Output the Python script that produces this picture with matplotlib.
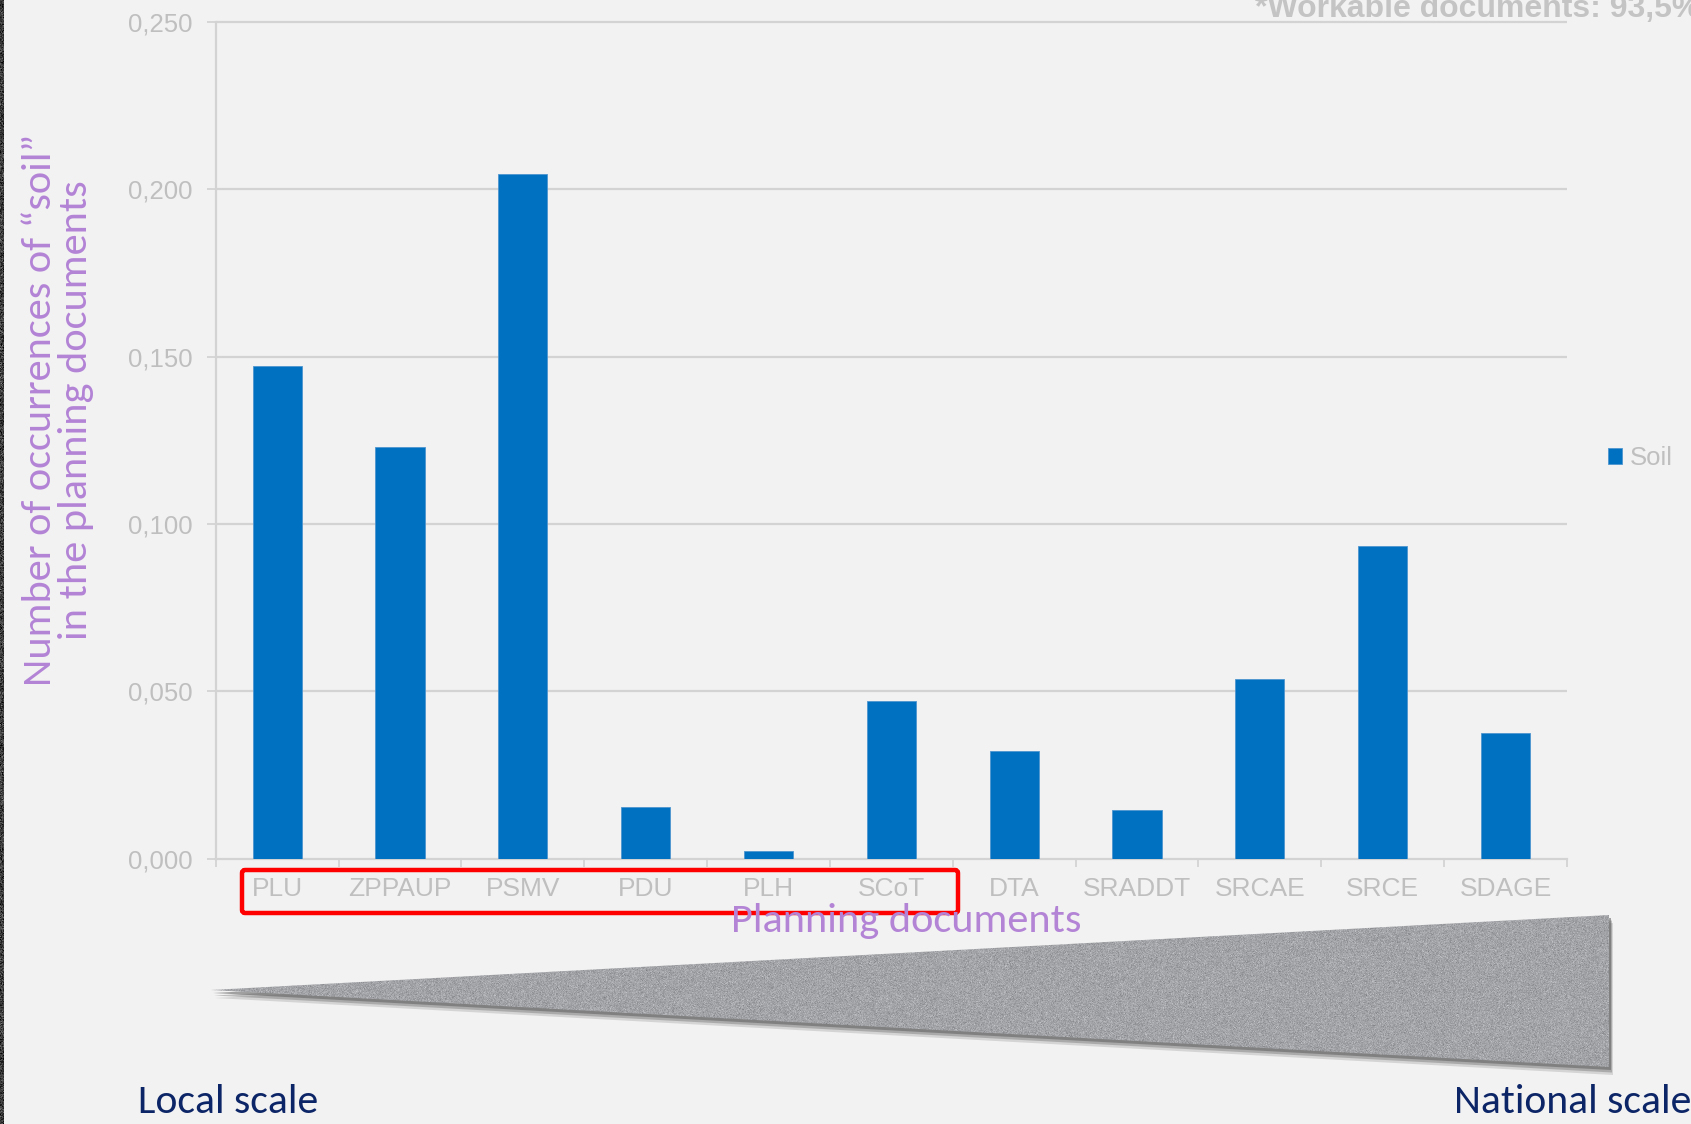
import numpy as np
import matplotlib.pyplot as plt
from matplotlib import font_manager
from matplotlib.patches import Polygon, FancyBboxPatch

# occurrences of "soil" per planning document
docs = ['PLU', 'ZPPAUP', 'PSMV', 'PDU', 'PLH', 'SCoT', 'DTA', 'SRADDT', 'SRCAE', 'SRCE', 'SDAGE']
soil = [0.1473, 0.1231, 0.2046, 0.0155, 0.0022, 0.0471, 0.0322, 0.0147, 0.0536, 0.0933, 0.0375]
yticks = [0.0, 0.05, 0.10, 0.15, 0.20, 0.25]
ytick_labels = ['0,000', '0,050', '0,100', '0,150', '0,200', '0,250']

W, H = 1691, 1124
bg = '#f2f2f2'
blue = '#0070c0'
grey_txt = '#bfbfbf'
line_col = '#d3d3d3'
purple = '#b383d6'
navy = '#0c2566'

installed = {f.name for f in font_manager.fontManager.ttflist}

def pick(*names):
    for n in names:
        if n in installed:
            return n
    return 'DejaVu Sans'

arial = pick('Liberation Sans', 'Arimo', 'DejaVu Sans')
calibri = pick('Carlito', 'Lato', 'Open Sans', 'Noto Sans')

fig = plt.figure(figsize=(W / 100, H / 100), dpi=100, facecolor=bg)

# main bar chart, placed in pixel terms
x0, x1, y0, y1 = 215.7, 1567, 858.7, 22
ax = fig.add_axes([x0 / W, 1 - y0 / H, (x1 - x0) / W, (y0 - y1) / H])
ax.set_facecolor(bg)
x = np.arange(len(docs))
ax.bar(x, soil, width=0.40, color=blue, edgecolor='#4f95d0', linewidth=0.6,
       zorder=3, label='Soil')
ax.set_xlim(-0.5, len(docs) - 0.5)
ax.set_ylim(0, 0.25)
ax.hlines(yticks[1:], -0.5, len(docs) - 0.5, color=line_col, linewidth=1.6,
          zorder=1, clip_on=False)

for side in ['top', 'right']:
    ax.spines[side].set_visible(False)
for side in ['left', 'bottom']:
    ax.spines[side].set_color(line_col)
    ax.spines[side].set_linewidth(1.6)

ax.set_yticks(yticks)
ax.set_yticklabels(ytick_labels, fontfamily=arial)
ax.tick_params(axis='y', length=6.5, width=1.3, color=line_col, pad=10,
               labelsize=18.5, labelcolor=grey_txt)
ax.set_xticks(x)
ax.set_xticklabels(docs, fontfamily=arial)
ax.set_xticks(np.arange(-0.5, len(docs)), minor=True)
ax.tick_params(axis='x', which='major', length=0, pad=13,
               labelsize=19, labelcolor=grey_txt)
ax.tick_params(axis='x', which='minor', length=6, width=1.3, color=line_col)

leg = ax.legend(loc='center left', bbox_to_anchor=(1608 / W, 1 - 458 / H),
                bbox_transform=fig.transFigure, frameon=False,
                handlelength=0.55, handleheight=0.55, handletextpad=0.3,
                borderpad=0, borderaxespad=0,
                prop={'family': arial, 'size': 18.5})
for t in leg.get_texts():
    t.set_color(grey_txt)

# overlay in pixel coordinates for the extra decorations
ov = fig.add_axes([0, 0, 1, 1])
ov.set_xlim(0, W)
ov.set_ylim(H, 0)
ov.axis('off')
ov.patch.set_alpha(0)

rng = np.random.default_rng(7)

# dark grainy strip on the left edge
strip = 60 + rng.normal(0, 25, (H, 4))
ov.imshow(np.clip(strip, 0, 255).astype(np.uint8), cmap='gray', vmin=0, vmax=255,
          extent=(0, 4, H, 0), aspect='auto', interpolation='nearest')

# red frame round the local documents
ov.add_patch(FancyBboxPatch((242, 870), 716, 43,
                            boxstyle='round,pad=0,rounding_size=3',
                            fc='none', ec='#ff0000', lw=3.2, zorder=3))

# local -> national wedge with a soft shadow
tri = [(211, 990), (1609, 915), (1609, 1067)]
for dx, dy, a in [(4, 8, 0.2), (3, 5.5, 0.35), (2, 3, 0.55)]:
    ov.add_patch(Polygon([(px + dx, py + dy) for px, py in tri],
                         closed=True, fc='#5e5e5e', ec='none', alpha=a, zorder=1))
wedge = Polygon(tri, closed=True, fc='none', ec='none', zorder=2)
ov.add_patch(wedge)
tex = 163 + rng.normal(0, 10, (152, 1398))
rgb = np.stack([tex, tex + 1, tex + 5], axis=-1)
img = ov.imshow(np.clip(rgb, 0, 255).astype(np.uint8),
                extent=(211, 1609, 1067, 915), aspect='auto',
                interpolation='bilinear', zorder=2)
img.set_clip_path(wedge)
ov.set_xlim(0, W)
ov.set_ylim(H, 0)

# texts
fig.text(1255 / W, 1 - 16.7 / H, '*Workable documents: 93,5%', fontsize=23,
         fontweight='bold', color='#c4c4c4', family=arial, ha='left', va='baseline')
fig.text(906 / W, 1 - 921 / H, 'Planning documents', fontsize=30.5, color=purple,
         family=calibri, ha='center', va='center')
fig.text(58 / W, 1 - 410 / H,
         'Number of occurrences of \u201csoil\u201d\nin the planning documents',
         fontsize=30.5, color=purple, family=calibri, rotation=90,
         ha='center', va='center', multialignment='center', linespacing=1.0)
fig.text(138 / W, 1 - 1113 / H, 'Local scale', fontsize=30, color=navy,
         family=calibri, ha='left', va='baseline')
fig.text(1454 / W, 1 - 1113 / H, 'National scale', fontsize=30, color=navy,
         family=calibri, ha='left', va='baseline')

fig.savefig('out.png', dpi=100, facecolor=bg)
